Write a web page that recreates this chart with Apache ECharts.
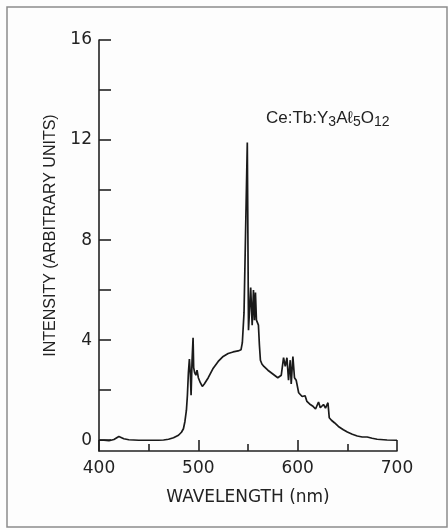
<!DOCTYPE html>
<html>
<head>
<meta charset="utf-8">
<script src="https://cdn.jsdelivr.net/npm/echarts@6/dist/echarts.min.js"></script>
<style>
  html, body { margin: 0; padding: 0; background: #fdfdfd; }
  #chart { width: 448px; height: 530px; }
</style>
</head>
<body>
<div id="chart"></div>
<script>
// emission spectrum (nm, arbitrary units)
const wavelength = [
  400, 405, 410, 415, 420, 425, 430, 440, 450, 460, 465, 470, 475, 480, 483, 485,
  486.5, 488, 489, 490, 491, 492, 492.7, 493.7, 494.7, 495.3, 496.3, 497.5, 498.7,
  500, 502, 504, 506, 510, 515, 520, 525, 530, 535, 540, 543, 544.3, 546, 549.3,
  550.5, 552.7, 554.2, 555.5, 556.5, 557.5, 558.5, 559.5, 560.5, 561.5, 562.5,
  564, 566, 570, 575, 580, 583.5, 585.8, 587.5, 589.2, 590.8, 592.5, 593.5, 595.2,
  596.8, 598.5, 601, 604.5, 607.5, 609.3, 612, 615, 618, 621, 622.8, 626, 628,
  630.5, 631.8, 634, 637, 641, 646, 650, 655, 660, 665, 670, 675, 680, 690, 700
];
const intensity = [
  0, 0, -0.02, 0.03, 0.15, 0.06, 0.02, 0, 0, 0, 0.01, 0.04, 0.1, 0.2, 0.32, 0.46,
  0.75, 1.2, 1.8, 2.7, 3.25, 2.6, 1.8, 3.2, 4.1, 2.9, 2.7, 2.6, 2.8,
  2.5, 2.3, 2.15, 2.25, 2.5, 2.88, 3.15, 3.35, 3.47, 3.53, 3.57, 3.62, 3.9, 5.1, 11.9,
  4.4, 6.1, 4.6, 6.0, 4.8, 5.9, 4.8, 4.7, 4.6, 3.8, 3.2,
  3.05, 2.95, 2.8, 2.65, 2.5, 2.6, 3.3, 2.95, 3.3, 2.4, 3.2, 2.25, 3.35,
  2.5, 2.4, 1.9, 1.75, 1.78, 1.55, 1.45, 1.37, 1.25, 1.53, 1.3, 1.43, 1.28,
  1.5, 0.9, 0.8, 0.7, 0.55, 0.42, 0.33, 0.24, 0.17, 0.13, 0.13, 0.08, 0.04, 0.01, 0
];
const yTicks = [0, 2, 4, 6, 8, 10, 12, 14, 16];
const yLabels = [0, 4, 8, 12, 16];

const ink = '#222';
const spectrum = wavelength.map((w, i) => [w, intensity[i]]);

const chart = echarts.init(document.getElementById('chart'));
chart.setOption({
  animation: false,
  backgroundColor: '#fdfdfd',
  grid: { left: 99, right: 51, top: 40, bottom: 79 },
  xAxis: {
    type: 'value',
    min: 400,
    max: 700,
    interval: 100,
    name: 'WAVELENGTH (nm)',
    nameLocation: 'middle',
    nameGap: 38,
    nameTextStyle: { fontFamily: 'DejaVu Sans', fontSize: 17, color: ink },
    axisLine: { onZero: false, lineStyle: { color: ink, width: 1.6 } },
    axisTick: { inside: true, length: 11, lineStyle: { color: ink, width: 1.6 } },
    minorTick: { show: true, splitNumber: 2, length: 7, lineStyle: { color: ink, width: 1.6 } },
    axisLabel: { margin: 9, fontFamily: 'DejaVu Sans', fontSize: 17, color: ink },
    splitLine: { show: false }
  },
  yAxis: {
    type: 'value',
    min: -0.43,
    max: 16,
    name: 'INTENSITY (ARBITRARY UNITS)',
    nameLocation: 'middle',
    nameGap: 40,
    nameRotate: 90,
    nameTextStyle: { fontFamily: 'Liberation Sans', fontSize: 16, color: ink, padding: [0, 0, 0, 20] },
    axisLine: { lineStyle: { color: ink, width: 1.6 } },
    axisTick: { inside: true, length: 12, customValues: yTicks, lineStyle: { color: ink, width: 1.6 } },
    axisLabel: { margin: 7, customValues: yLabels, fontFamily: 'DejaVu Sans', fontSize: 17, color: ink },
    splitLine: { show: false }
  },
  graphic: [
    {
      type: 'rect',
      shape: { x: 7, y: 7, width: 440, height: 520 },
      style: { fill: 'none', stroke: '#8c8c8c', lineWidth: 1.5 },
      silent: true
    },
    {
      // formula label, subscripts dropped a few px below the baseline
      type: 'text',
      x: 266,
      y: 110,
      style: {
        text: '{m|Ce:Tb:Y}{s|3}{m|Aℓ}{s|5}{m|O}{s|12}',
        rich: {
          m: { fontFamily: 'Liberation Sans', fontSize: 17, lineHeight: 20, verticalAlign: 'top', fill: ink },
          s: { fontFamily: 'Liberation Sans', fontSize: 14, lineHeight: 20, padding: [5, 0, 0, 0], verticalAlign: 'top', fill: ink }
        }
      }
    }
  ],
  series: [
    {
      type: 'line',
      data: spectrum,
      showSymbol: false,
      lineStyle: { color: '#1a1a1a', width: 1.7 }
    }
  ]
});
</script>
</body>
</html>
